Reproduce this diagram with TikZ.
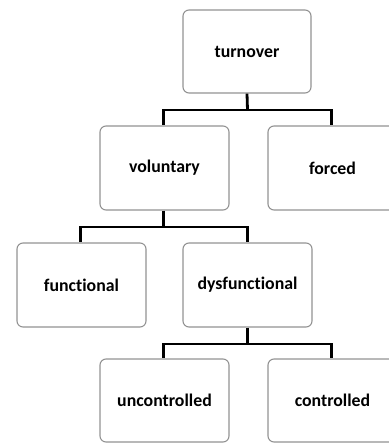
\documentclass[tikz,border=0pt]{standalone}
\usepackage{fontspec}
\setmainfont[Ligatures={NoCommon}]{Carlito}
\begin{document}
\begin{tikzpicture}[x=1pt,y=-1pt,
  box/.style={draw=gray!85, line width=1.1pt, rounded corners=6pt, fill=white,
    minimum width=129pt, minimum height=84pt, inner sep=0pt,
    font=\fontsize{17.8}{20}\selectfont\bfseries},
  conn/.style={draw=black, line width=2.8pt}]
\useasboundingbox (0,0) rectangle (388,443);
\node[box, minimum width=128pt, minimum height=83pt] (turnover) at (247,51.5) {turnover};
\node[box] (voluntary) at (164.5,168) {voluntary};
\node[box] (forced) at (332.5,168) {forced};
\node[box] (functional) at (81.5,285) {functional};
\node[box] (dysfunctional) at (247.5,285) {dysfunctional};
\node[box, minimum height=83pt] (uncontrolled) at (164.5,400.5) {uncontrolled};
\node[box, minimum height=83pt] (controlled) at (332.5,400.5) {controlled};
\coordinate (j1) at (247.5,110);
\coordinate (j2) at (163.5,227);
\coordinate (j3) at (247.5,344);
\draw[conn] (turnover.south) -- (j1);
\draw[conn] (j1) -| ([xshift=-1pt]voluntary.north);
\draw[conn] (j1) -| ([xshift=-1pt]forced.north);
\draw[conn] (voluntary.south -| j2) -- (j2);
\draw[conn] (j2) -| ([xshift=-1pt]functional.north);
\draw[conn] (j2) -| (dysfunctional.north);
\draw[conn] (dysfunctional.south) -- (j3);
\draw[conn] (j3) -| ([xshift=-1pt]uncontrolled.north);
\draw[conn] (j3) -| ([xshift=-1pt]controlled.north);
\end{tikzpicture}
\end{document}
